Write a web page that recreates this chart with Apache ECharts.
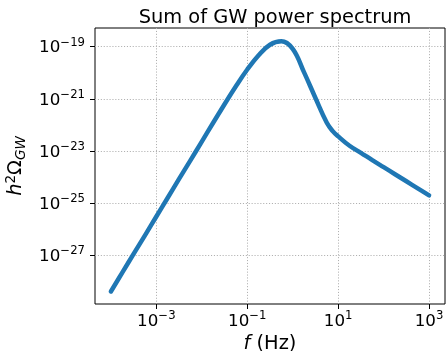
<!DOCTYPE html>
<html><head><meta charset="utf-8">
<script src="https://cdn.jsdelivr.net/npm/echarts@6/dist/echarts.min.js"></script>
<style>html,body{margin:0;padding:0;background:#fff}#c{width:446px;height:351px}</style>
</head><body><div id="c"></div>
<script>
// log10 of frequency (Hz) and log10 of h^2 Omega_GW
const log10Freq = [-4.00, -3.75, -3.50, -3.25, -3.00, -2.75, -2.50, -2.25, -2.00, -1.75, -1.50, -1.25, -1.00, -0.75, -0.50, -0.25, 0.00, 0.25, 0.50, 0.75, 0.875, 1.00, 1.25, 1.50, 1.75, 2.00, 2.25, 2.50, 2.75, 3.00];
const log10Omega = [-28.38, -27.66, -26.94, -26.23, -25.51, -24.79, -24.07, -23.36, -22.64, -21.92, -21.21, -20.52, -19.88, -19.33, -18.93, -18.80, -19.09, -19.99, -20.97, -21.92, -22.23, -22.44, -22.80, -23.07, -23.35, -23.62, -23.89, -24.16, -24.43, -24.70];
const xTickValues = [1e-3, 1e-1, 1e1, 1e3];
const yTickValues = [1e-27, 1e-25, 1e-23, 1e-21, 1e-19];
const xRange = [4.47e-5, 2239];
const yRange = [1.38e-29, 5.13e-19];

const FONT = 'DejaVu Sans';
function powLabel(v) {
  const e = Math.round(Math.log10(v));
  return '{b|10}{s|' + (e < 0 ? '\u2212' : '') + Math.abs(e) + '}';
}
const tickRich = {
  b: {fontSize: 16.7, fontFamily: FONT, color: '#000', lineHeight: 20, verticalAlign: 'bottom'},
  s: {fontSize: 11.7, fontFamily: FONT, color: '#000', lineHeight: 12, verticalAlign: 'top'}
};
const gridLine = {show: true, lineStyle: {color: '#b0b0b0', type: [1.1, 1.8], width: 1}};
const chart = echarts.init(document.getElementById('c'), null, {renderer: 'canvas'});
chart.setOption({
  animation: false,
  backgroundColor: '#fff',
  title: {
    text: 'Sum of GW power spectrum', left: 270, top: 3, textAlign: 'center',
    textStyle: {fontFamily: FONT, fontSize: 19.4, fontWeight: 'normal', color: '#000'}
  },
  grid: {left: 95, right: 1, top: 28, bottom: 47, containLabel: false, outerBoundsMode: 'none',
    show: true, borderColor: '#000', borderWidth: 1, backgroundColor: 'transparent'},
  xAxis: {
    type: 'log', logBase: 10, min: xRange[0], max: xRange[1],
    axisLine: {show: false},
    axisTick: {show: true, length: 5, lineStyle: {color: '#000', width: 1}, customValues: xTickValues},
    axisLabel: {customValues: xTickValues, margin: 6, formatter: powLabel, rich: tickRich},
    splitLine: gridLine,
    minorTick: {show: false}, minorSplitLine: {show: false},
    name: '{i|f} (Hz)', nameLocation: 'middle', nameGap: 29,
    nameTextStyle: {fontFamily: FONT, fontSize: 19.4, color: '#000',
      rich: {i: {fontFamily: FONT, fontSize: 19.4, fontStyle: 'italic', color: '#000'}}}
  },
  yAxis: {
    type: 'log', logBase: 10, min: yRange[0], max: yRange[1],
    axisLine: {show: false},
    axisTick: {show: true, length: 5, lineStyle: {color: '#000', width: 1}, customValues: yTickValues},
    axisLabel: {customValues: yTickValues, margin: 10, formatter: powLabel, rich: tickRich},
    splitLine: gridLine,
    minorTick: {show: false}, minorSplitLine: {show: false},
    name: '{i|h}{sup|2}{n|\u03a9}{sub|GW}', nameLocation: 'middle', nameGap: 61, nameRotate: 90,
    nameTextStyle: {fontFamily: FONT, fontSize: 19.4, color: '#000',
      rich: {
        i: {fontFamily: FONT, fontSize: 19.4, fontStyle: 'italic', color: '#000', lineHeight: 24},
        sup: {fontFamily: FONT, fontSize: 13.6, color: '#000', lineHeight: 14, verticalAlign: 'top'},
        n: {fontFamily: FONT, fontSize: 19.4, color: '#000', lineHeight: 24},
        sub: {fontFamily: FONT, fontSize: 13.6, fontStyle: 'italic', color: '#000', lineHeight: 14, verticalAlign: 'bottom'}
      }}
  },
  series: [{
    type: 'line', data: log10Freq.map((lf, i) => [Math.pow(10, lf), Math.pow(10, log10Omega[i])]),
    showSymbol: false, symbol: 'none', smooth: 0.4, clip: true,
    lineStyle: {color: '#1f77b4', width: 4.5, cap: 'round', join: 'round'}
  }]
});
</script></body></html>
